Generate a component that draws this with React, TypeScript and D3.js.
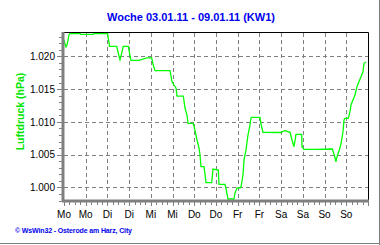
import React from "react";
import * as d3 from "d3";

// Week hours (0 = Monday 00:00) and air pressure in hPa
const hours = [
  0, 0.55, 1.11, 1.66, 2.21, 2.76, 3.32, 8.84, 9.39, 16.03, 16.58, 24.15, 24.32, 24.87, 25.14,
  29.12, 29.84, 30.95, 31.78, 32.77, 35.53, 36.2, 37.03, 41.45, 45.7, 48.46, 49.18, 50.29,
  58.58, 59.13, 59.68, 60.79, 61.89, 62.45, 65.93, 66.87, 67.97, 68.53, 71.45, 72.39, 73.5,
  74.6, 75.16, 75.71, 77.37, 77.92, 78.47, 81.62, 82.34, 85.27, 85.66, 88.97, 89.52, 90.08,
  90.63, 93.94, 94.5, 95.61, 97.26, 97.82, 98.92, 99.47, 100.58, 101.68, 102.79, 103.34,
  103.89, 108.31, 108.87, 109.97, 120.31, 120.47, 122.13, 124.89, 126.0, 127.11, 128.21,
  131.36, 131.53, 132.63, 139.1, 148.27, 149.38, 150.32, 150.87, 152.14, 153.08, 154.18,
  154.74, 155.29, 157.11, 158.05, 158.6, 160.81, 161.92, 163.02, 164.13, 165.24, 165.79, 166.89,
];
const pressure = [
  1022.5, 1021.89, 1021.44, 1021.74, 1022.5, 1023.27, 1023.47, 1023.47, 1023.37, 1023.37,
  1023.47, 1023.47, 1022.96, 1022.2, 1021.54, 1021.54, 1020.67, 1019.5, 1020.37, 1021.54,
  1021.54, 1020.52, 1019.4, 1019.4, 1019.76, 1019.76, 1018.84, 1017.82, 1017.82, 1017.01,
  1016.14, 1015.63, 1015.18, 1013.95, 1013.95, 1012.12, 1011.05, 1009.79, 1009.79, 1008.76,
  1007.24, 1006.02, 1004.95, 1003.16, 1003.16, 1002.05, 1000.72, 1000.72, 1002.81, 1002.66,
  1000.47, 1000.47, 999.86, 998.99, 998.23, 998.23, 999.15, 999.91, 999.95, 1000.06, 1001.89,
  1004.18, 1005.71, 1008.0, 1009.53, 1010.6, 1010.7, 1010.7, 1009.68, 1008.41, 1008.38,
  1008.5, 1008.66, 1008.41, 1007.24, 1006.21, 1008.11, 1008.11, 1006.21, 1005.82, 1005.82,
  1005.86, 1004.95, 1003.92, 1004.69, 1005.71, 1006.63, 1008.5, 1010.29, 1010.55, 1010.55,
  1011.56, 1012.58, 1014.11, 1015.37, 1016.14, 1016.9, 1017.66, 1018.95, 1019.15,
];
const dayLabels = ["Mo", "Mo", "Di", "Di", "Mi", "Mi", "Do", "Do", "Fr", "Fr", "Sa", "Sa", "So", "So"];
const yTicks = [1000, 1005, 1010, 1015, 1020];
const yDomain = [998.08, 1023.57];
const xDomain = [0, 168];

const title = "Woche 03.01.11 - 09.01.11 (KW1)";
const yTitle = "Luftdruck (hPa)";
const footer = "\u00a9 WsWin32 - Osterode am Harz, City";

const de = d3.formatLocale({ decimal: ",", thousands: ".", grouping: [3], currency: ["", " €"] });
const fmt = de.format(",.0f");

export default function App() {
  const left = 64, right = 368, top = 33, bottom = 200;
  const x = d3.scaleLinear().domain(xDomain).range([left, right]);
  const y = d3.scaleLinear().domain(yDomain).range([bottom, top]);
  const pts: [number, number][] = hours.map((h, i) => [h, pressure[i]]);
  const line = d3.line<[number, number]>().x((d) => x(d[0])).y((d) => y(d[1]));
  const majorX = d3.range(0, 168, 12);
  const minorX = d3.range(0, 169, 3);
  const minorY = d3.range(998, 1024, 1);
  const font = "'Liberation Sans', Arial, sans-serif";
  const grid = "#808080";

  return (
    <svg
      width={380}
      height={245}
      style={{ position: "fixed", left: 0, top: 0, background: "#fff", display: "block" }}
      fontFamily={font}
    >
      <rect x={0} y={0} width={380} height={245} fill="#fff" />
      {/* grid */}
      {yTicks.map((t) => (
        <line key={"gy" + t} x1={left} x2={right} y1={Math.round(y(t)) + 0.5} y2={Math.round(y(t)) + 0.5}
          stroke={grid} strokeDasharray="4,3" />
      ))}
      {majorX.slice(1).map((t) => (
        <line key={"gx" + t} x1={Math.round(x(t)) + 0.5} x2={Math.round(x(t)) + 0.5} y1={top} y2={bottom}
          stroke={grid} strokeDasharray="4,3" />
      ))}
      {/* frame */}
      <line x1={left} x2={right + 0.5} y1={top - 0.5} y2={top - 0.5} stroke="#000" />
      <line x1={right + 0.5} x2={right + 0.5} y1={top - 0.5} y2={bottom} stroke="#000" />
      {/* data */}
      <path d={line(pts) || ""} fill="none" stroke="#00ff00" strokeWidth={1.3} strokeLinejoin="miter" />
      {/* axes */}
      <line x1={63} x2={63} y1={top - 1} y2={bottom + 2} stroke="#808080" strokeWidth={3} />
      <line x1={62} x2={right + 1} y1={201} y2={201} stroke="#808080" strokeWidth={3} />
      {minorY.map((t) => (
        <line key={"my" + t} x1={t % 5 === 0 ? 57 : 59} x2={62} y1={Math.round(y(t)) + 0.5} y2={Math.round(y(t)) + 0.5}
          stroke="#808080" />
      ))}
      {minorX.map((t) => (
        <line key={"mx" + t} x1={Math.round(x(t)) + 0.5} x2={Math.round(x(t)) + 0.5} y1={202} y2={t % 12 === 0 ? 206 : 205}
          stroke="#808080" />
      ))}
      {/* tick labels */}
      {yTicks.map((t) => (
        <text key={"ly" + t} x={55} y={y(t) + 3.6} textAnchor="end" fontSize={10} fill="#000">
          {fmt(t)}
        </text>
      ))}
      {dayLabels.map((d, i) => (
        <text key={"lx" + i} x={x(i * 12)} y={217.5} textAnchor="middle" fontSize={10} fill="#000">
          {d}
        </text>
      ))}
      {/* titles */}
      <text x={191} y={21} textAnchor="middle" fontSize={11} fontWeight="bold" fill="#0000ee">
        {title}
      </text>
      <text transform="translate(24,111.5) rotate(-90)" textAnchor="middle" fontSize={10.5} fontWeight="bold" fill="#00e600">
        {yTitle}
      </text>
      <text x={15} y={233} fontSize={7} fontWeight="bold" fill="#0000ee" textLength={117} lengthAdjust="spacing">
        {footer}
      </text>
      {/* outer bevel */}
      <line x1={379.5} x2={379.5} y1={0} y2={245} stroke="#808080" />
      <line x1={0} x2={380} y1={243.5} y2={243.5} stroke="#808080" />
    </svg>
  );
}
